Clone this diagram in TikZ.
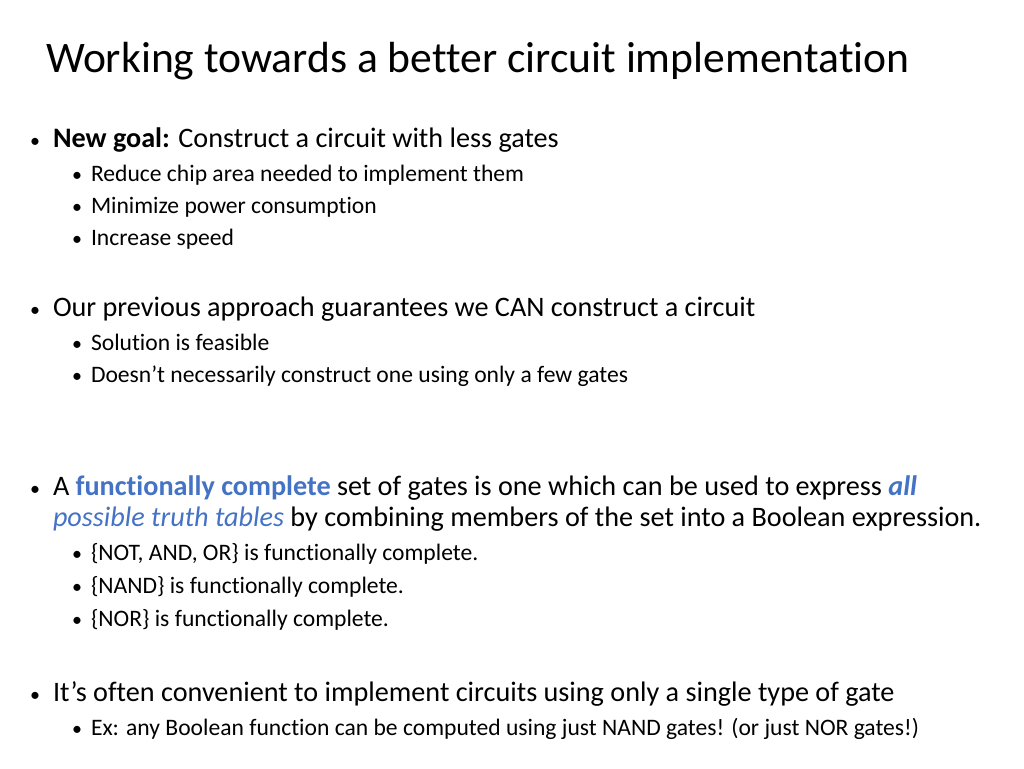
\documentclass[tikz,border=0pt]{standalone}
\usepackage{fontspec}
\setmainfont{Carlito}[Ligatures=NoCommon]
\definecolor{cblue}{RGB}{68,114,196}
\newcommand{\hl}[1]{\textcolor{cblue}{\textbf{#1}}}
\newcommand{\hi}[1]{\textcolor{cblue}{\textit{#1}}}
\begin{document}
\begin{tikzpicture}[x=1pt, y=-1pt, inner sep=0pt, outer sep=0pt,
  title/.style={anchor=base west, font=\fontsize{43.6}{50}\selectfont},
  lone/.style={anchor=base west, font=\fontsize{28.2}{32}\selectfont},
  ltwo/.style={anchor=base west, font=\fontsize{23.6}{28}\selectfont},
  bul/.style={anchor=base west, font=\fontsize{20}{24}\selectfont}]
  \useasboundingbox (0,0) rectangle (1024,768);
  \node[title] (title) at (46,72) {Working towards a better circuit implementation};
  % new goal
  \node[bul] (b1) at (30,147) {\textbullet};
  \node[lone] (t1) at (53,147) {\textbf{New goal:} Construct a circuit with less gates};
  \node[bul] (b1a) at (72,181) {\textbullet};
  \node[ltwo] (t1a) at (91,181) {Reduce chip area needed to implement them};
  \node[bul] (b1b) at (72,213) {\textbullet};
  \node[ltwo] (t1b) at (91,213) {Minimize power consumption};
  \node[bul] (b1c) at (72,245) {\textbullet};
  \node[ltwo] (t1c) at (91,245) {Increase speed};
  % previous approach
  \node[bul] (b2) at (30,316) {\textbullet};
  \node[lone] (t2) at (53,316) {Our previous approach guarantees we CAN construct a circuit};
  \node[bul] (b2a) at (72,350) {\textbullet};
  \node[ltwo] (t2a) at (91,350) {Solution is feasible};
  \node[bul] (b2b) at (72,382) {\textbullet};
  \node[ltwo] (t2b) at (91,382) {Doesn’t necessarily construct one using only a few gates};
  % functionally complete
  \node[bul] (b3) at (30,495) {\textbullet};
  \node[lone] (t3) at (53,495) {A \hl{functionally complete} set of gates is one which can be used to express \hi{\textbf{all}}};
  \node[lone] (t3x) at (53,526) {\hi{possible truth tables} by combining members of the set into a Boolean expression.};
  \node[bul] (b3a) at (72,560) {\textbullet};
  \node[ltwo] (t3a) at (91,560) {\{NOT, AND, OR\} is functionally complete.};
  \node[bul] (b3b) at (72,593) {\textbullet};
  \node[ltwo] (t3b) at (91,593) {\{NAND\} is functionally complete.};
  \node[bul] (b3c) at (72,626) {\textbullet};
  \node[ltwo] (t3c) at (91,626) {\{NOR\} is functionally complete.};
  % single gate type
  \node[bul] (b4) at (30,701) {\textbullet};
  \node[lone] (t4) at (53,701) {It’s often convenient to implement circuits using only a single type of gate};
  \node[bul] (b4a) at (72,735) {\textbullet};
  \node[ltwo] (t4a) at (91,735) {Ex: any Boolean function can be computed using just NAND gates! (or just NOR gates!)};
\end{tikzpicture}
\end{document}
